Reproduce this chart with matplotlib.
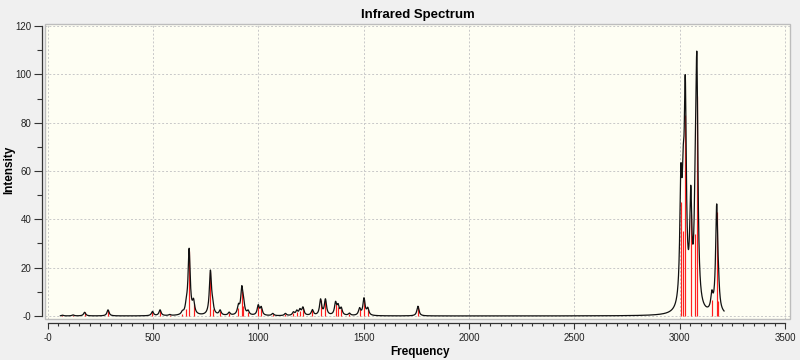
import numpy as np
import matplotlib
matplotlib.use('Agg')
import matplotlib.pyplot as plt
from matplotlib.ticker import MultipleLocator
from matplotlib.patches import Rectangle

plt.rcParams['font.family'] = ['Liberation Sans', 'DejaVu Sans']

# Stick spectrum (frequency in cm-1, intensity)
freqs = [70, 120, 175, 286, 497, 533, 579, 639, 658, 671, 692, 772, 782,
         818, 861, 905, 921, 929, 951, 999, 1013, 1068, 1128, 1166, 1182,
         1197, 1211, 1256, 1295, 1318, 1366, 1378, 1393, 1432, 1480, 1501,
         1519, 1757, 3005, 3016, 3026, 3052, 3074, 3081, 3152, 3175, 3183]
intens = [0.3, 0.4, 1.5, 2.5, 1.8, 2.4, 0.4, 1.0, 3.0, 27.0, 5.0, 18.0, 3.0,
          2.0, 1.2, 3.5, 10.5, 4.0, 1.6, 4.0, 3.2, 0.9, 0.9, 1.3, 1.8,
          2.2, 3.2, 2.3, 6.5, 6.5, 5.0, 3.6, 2.8, 0.9, 2.8, 7.0,
          2.8, 4.0, 47.0, 35.0, 83.0, 42.0, 34.0, 91.0, 6.5, 43.0, 6.0]
hwhm = 6.0  # Lorentzian half width used for the broadened curve

freqs = np.array(freqs, dtype=float)
intens = np.array(intens)

# Broadened spectrum: sum of Lorentzians centred on the sticks
x = np.linspace(60, 3210, 8000)
y = np.zeros_like(x)
for f0, i0 in zip(freqs, intens):
    y += i0 * hwhm**2 / ((x - f0)**2 + hwhm**2)

fig = plt.figure(figsize=(8, 3.6), dpi=100, facecolor='#F0F0F0')
ax = fig.add_axes([0.056, 0.114, 0.9315, 0.819])
ax.set_facecolor('#FEFEF3')

ax.vlines(freqs, 0, intens, color='#FF2020', lw=0.85, zorder=2)
ax.plot(x, y, color='#111111', lw=0.9, zorder=3)

ax.set_xlim(-14, 3523)
ax.set_ylim(-1.24, 120.8)

# Ticks and labels
ax.set_xticks(np.arange(0, 3501, 500))
ax.set_xticklabels(['-0'] + [str(v) for v in range(500, 3501, 500)])
ax.set_yticks(np.arange(0, 121, 20))
ax.set_yticklabels(['-0'] + [str(v) for v in range(20, 121, 20)])
ax.xaxis.set_minor_locator(MultipleLocator(50))
ax.yaxis.set_minor_locator(MultipleLocator(10))
ax.tick_params(axis='both', which='both', direction='out', colors='#333333',
               labelcolor='#222222', labelsize=7, width=0.8)
ax.tick_params(axis='y', which='major', length=6, pad=1.5)
ax.tick_params(axis='y', which='minor', length=3.5)
ax.tick_params(axis='x', which='major', length=4.5, pad=2.5)
ax.tick_params(axis='x', which='minor', length=2.5)

# Axis lines set off from the plot area
for side in ['top', 'right']:
    ax.spines[side].set_visible(False)
ax.spines['left'].set_position(('outward', 2))
ax.spines['left'].set_bounds(0, 120)
ax.spines['bottom'].set_position(('outward', 3))
ax.spines['bottom'].set_bounds(0, 3500)
for side in ['left', 'bottom']:
    ax.spines[side].set_color('#333333')
    ax.spines[side].set_linewidth(0.9)

ax.add_patch(Rectangle((0, 0), 1, 1, transform=ax.transAxes, fill=False,
                       ec='#BDBDBD', lw=1, clip_on=False, zorder=4))

# Dashed grid
ax.grid(True, which='major', color='#C8C8C8', ls=(0, (2, 2)), lw=0.7)
ax.set_axisbelow(True)

fig.text(0.522, 0.958, 'Infrared Spectrum', ha='center', va='center',
         fontsize=9.5, fontweight='bold')
fig.text(0.525, 0.022, 'Frequency', ha='center', va='center',
         fontsize=8.5, fontweight='bold')
fig.text(0.012, 0.528, 'Intensity', ha='center', va='center',
         rotation=90, fontsize=8.5, fontweight='bold')

fig.savefig('out.png', dpi=100, facecolor=fig.get_facecolor())
